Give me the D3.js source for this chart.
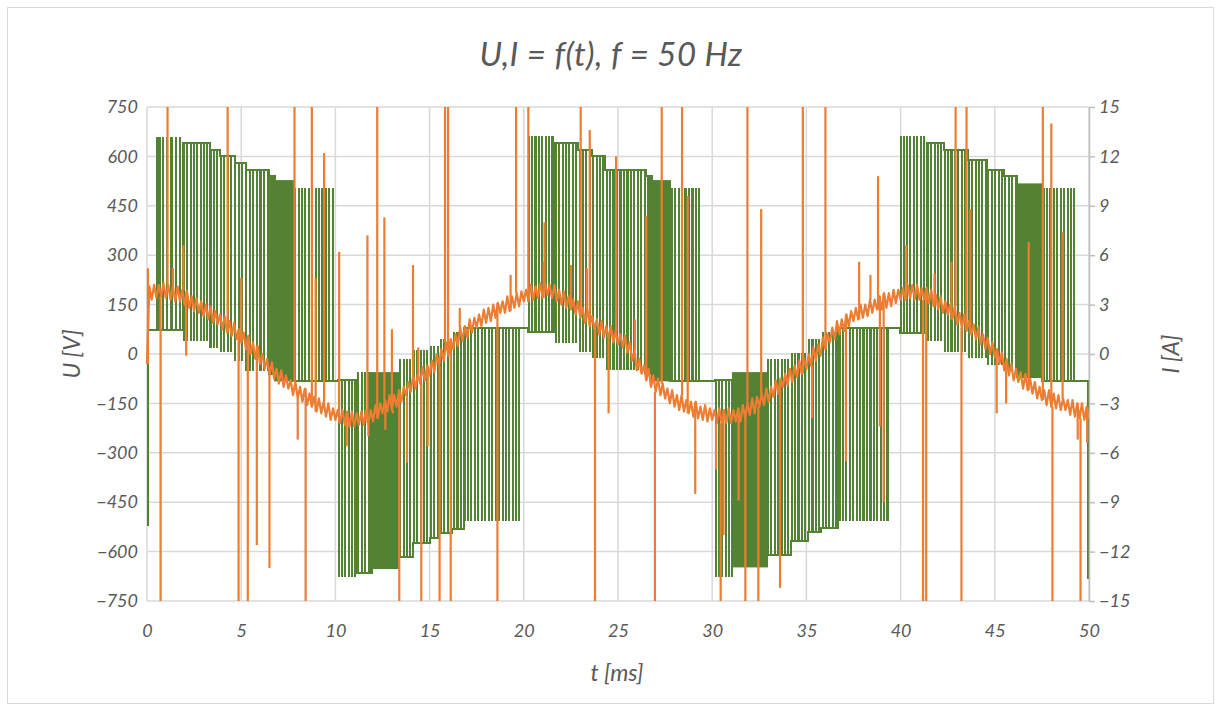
<!DOCTYPE html>
<html>
<head>
<meta charset="utf-8">
<script src="https://cdn.jsdelivr.net/npm/d3@7"></script>
<style>
  html, body { margin: 0; padding: 0; background: #ffffff; }
  svg text { font-family: Lato, "Open Sans", "Noto Sans", sans-serif; font-style: italic; fill: #595959; }
</style>
</head>
<body>
<svg id="chart" width="1222" height="711"></svg>
<script>
// ---- Axis ticks ----
const timeTicks = [0, 5, 10, 15, 20, 25, 30, 35, 40, 45, 50];
const voltageTicks = [750, 600, 450, 300, 150, 0, -150, -300, -450, -600, -750];
const currentTicks = [15, 12, 9, 6, 3, 0, -3, -6, -9, -12, -15];

// ---- Current I, in tenths of an ampere, one sample every 0.125 ms from t = 0 ----
const currentStep = 0.125;
const currentTenthsA = [
  -6, 41, 33, 42, 34, 42, 35, 43, 34, 42, 33, 41, 32, 41, 32, 39,
  30, 38, 28, 35, 26, 34, 25, 32, 23, 30, 21, 29, 19, 26, 18, 24,
  15, 23, 13, 20, 11, 19, 9, 15, 7, 13, 3, 11, 0, 7, -3, 5,
  -6, 0, -9, -3, -13, -5, -15, -9, -18, -10, -20, -13, -21, -16, -25, -17,
  -27, -20, -29, -21, -31, -24, -32, -26, -35, -27, -36, -29, -38, -30, -40, -33,
  -40, -34, -42, -34, -43, -35, -44, -35, -44, -36, -43, -35, -43, -34, -42, -34,
  -41, -31, -39, -30, -36, -28, -35, -25, -34, -25, -32, -22, -29, -20, -25, -17,
  -23, -13, -21, -12, -18, -8, -16, -7, -13, -4, -11, 0, -7, 3, -4, 7,
  -1, 9, 3, 12, 5, 16, 8, 17, 10, 21, 13, 22, 16, 24, 17, 27,
  19, 28, 20, 30, 22, 31, 25, 32, 25, 35, 26, 35, 28, 37, 29, 38,
  32, 39, 32, 42, 33, 41, 34, 43, 34, 43, 36, 42, 34, 42, 32, 39,
  30, 38, 28, 35, 27, 33, 24, 32, 22, 28, 19, 27, 17, 23, 15, 21,
  12, 20, 10, 17, 9, 17, 7, 14, 6, 12, 4, 11, 1, 7, -4, 2,
  -10, -3, -12, -7, -16, -9, -20, -13, -23, -15, -25, -18, -27, -21, -30, -22,
  -32, -25, -34, -25, -35, -28, -36, -29, -38, -29, -39, -32, -40, -31, -41, -33,
  -40, -34, -42, -33, -42, -34, -42, -33, -42, -34, -41, -33, -41, -31, -39, -30,
  -37, -27, -36, -26, -32, -24, -31, -21, -29, -20, -26, -16, -24, -15, -20, -12,
  -19, -9, -17, -7, -14, -4, -12, -3, -9, 0, -7, 4, -4, 6, -1, 10,
  3, 12, 7, 16, 9, 20, 12, 21, 14, 24, 17, 26, 20, 28, 21, 30,
  22, 30, 23, 33, 25, 33, 27, 35, 27, 37, 28, 37, 29, 39, 31, 39,
  33, 40, 33, 42, 34, 42, 33, 42, 33, 40, 33, 40, 31, 39, 29, 36,
  27, 35, 25, 32, 24, 30, 21, 29, 18, 25, 16, 24, 14, 20, 12, 18,
  9, 16, 6, 12, 3, 10, 0, 7, -2, 3, -6, 1, -10, -3, -13, -6,
  -16, -9, -17, -11, -21, -12, -22, -15, -24, -17, -27, -20, -28, -22, -31, -22,
  -32, -24, -33, -25, -34, -27, -34, -28, -37, -28, -38, -30, -39, -30, -40, -32,
  -39
];

// ---- Switching transients in the current: [t ms, peak A] ----
const currentSpikes = [
  [0.05, 5.2], [0.72, -18], [1.09, 18], [1.38, 5.2], [1.93, 6.6], [2.08, -0.1],
  [4.28, 18], [4.86, -18], [5.0, 4.6], [5.35, -18], [5.83, -11.6], [6.5, -13],
  [7.83, 18], [8.0, -5.2], [8.42, -18], [8.75, 18], [8.95, 4.6], [9.4, 12.2],
  [10.2, 6.2], [10.6, -5.6], [11.7, 7.2], [11.75, -5.0], [12.22, 18], [12.6, 8.3], [12.65, -4.6],
  [13.0, 1.5], [13.05, -3.6], [13.39, -18], [13.8, -6.6], [14.12, 5.4], [14.4, 0.4], [14.56, -18],
  [14.9, -5.6], [15.53, -18], [15.82, 18], [15.98, 18], [16.12, -18], [16.6, 2.8],
  [18.6, -18], [19.3, 4.8], [19.59, 18], [20.24, 18], [21.05, 5.6], [21.1, 8.0],
  [22.5, 5.4], [23.02, 18], [23.35, 5.2], [23.5, 13.6], [23.78, -18], [24.5, -3.6], [24.9, 12.0],
  [25.9, 2.1], [26.5, 8.4], [26.96, -18], [27.32, 18], [28.4, 18], [28.7, 9.6], [29.1, -8.5],
  [30.2, -7.0], [30.45, -18], [30.6, -11.0], [31.4, -8.9], [31.76, -18], [31.87, 18], [32.45, -18],
  [32.6, 8.8], [33.6, -14.2], [34.81, 18], [35.3, -3.9], [36.01, 18], [37.1, -6.5], [37.8, 5.6],
  [38.4, 4.8], [38.8, 10.8], [38.9, -4.4], [39.1, -9.0], [40.3, 6.6], [41.19, -18], [41.36, -18],
  [41.8, 4.9], [42.7, 5.6], [42.92, 18], [43.23, -18], [43.5, 18], [43.7, 8.8], [45.1, -3.6],
  [45.6, -3.0], [46.8, 6.8], [47.55, 18], [48.0, 14.0], [48.06, -18], [48.6, 7.4], [49.4, -5.2],
  [49.55, -18], [49.9, -5.4]
];

// ---- Voltage U [V] ----
// Stretches of the switched waveform: [start ms, end ms, resting level V, pulse level V]
const voltageSegments = [
  [0.00, 0.06, -520, -520],
  [0.06, 1.90, 72, 655],
  [1.90, 3.35, 640, 42],
  [3.35, 3.90, 620, 22],
  [3.90, 4.65, 600, 8],
  [4.65, 5.25, 580, -18],
  [5.25, 6.45, 558, -48],
  [6.45, 6.80, 540, -60],
  [7.75, 10.15, -82, 500],
  [10.15, 11.10, -80, -675],
  [11.10, 11.95, -665, -58],
  [13.35, 14.10, -617, -18],
  [14.10, 15.00, -575, 10],
  [15.00, 15.50, -560, 21],
  [15.50, 16.20, -545, 42],
  [16.20, 16.80, -530, 63],
  [16.80, 20.20, 80, -505],
  [20.20, 21.65, 68, 660],
  [21.65, 22.90, 640, 35],
  [22.90, 23.60, 620, 10],
  [23.60, 24.30, 600, -10],
  [24.30, 26.50, 560, -45],
  [26.50, 26.80, 540, -60],
  [27.76, 30.15, -82, 500],
  [30.15, 31.10, -80, -675],
  [32.90, 34.20, -610, -18],
  [34.20, 35.10, -568, 0],
  [35.10, 35.80, -540, 42],
  [35.80, 36.70, -528, 63],
  [36.70, 39.97, 80, -505],
  [39.97, 41.40, 65, 660],
  [41.40, 42.30, 640, 42],
  [42.30, 43.60, 620, 10],
  [43.60, 44.60, 590, -10],
  [44.60, 45.50, 560, -30],
  [45.50, 46.20, 540, -50],
  [47.50, 49.95, -82, 500],
  [49.95, 50.00, -680, -680]
];

// Instants (ms) where the voltage leaves its resting level for one short pulse
const voltagePulses = [
  0.55, 0.66, 0.83, 1.04, 1.28, 1.34, 1.55, 1.76,
  1.95, 2.13, 2.31, 2.48, 2.66, 2.84, 3.01, 3.19,
  3.37, 3.55, 3.73,
  3.92, 4.10, 4.30, 4.47,
  4.66, 4.86, 5.05,
  5.27, 5.45, 5.64, 5.84, 6.02, 6.22, 6.40,
  6.50, 6.66,
  7.86, 8.05, 8.24, 8.40, 8.58, 8.77, 8.95, 9.14, 9.30, 9.49, 9.68, 9.86,
  10.17, 10.34, 10.52, 10.70, 10.88, 11.03,
  11.22, 11.40, 11.58, 11.76, 11.88,
  13.45, 13.62, 13.80, 13.98,
  14.15, 14.33, 14.52, 14.70, 14.88,
  15.06, 15.24, 15.42,
  15.60, 15.78, 15.96, 16.12,
  16.30, 16.48, 16.66,
  16.85, 17.03, 17.21, 17.40, 17.58, 17.76, 17.95, 18.13, 18.31, 18.50, 18.68, 18.87, 19.05, 19.23, 19.42, 19.60, 19.76,
  20.26, 20.44, 20.62, 20.80, 20.98, 21.16, 21.34, 21.52,
  21.70, 21.88, 22.06, 22.24, 22.42, 22.60, 22.78,
  22.96, 23.14, 23.32, 23.50,
  23.68, 23.86, 24.04, 24.22,
  24.40, 24.58, 24.76, 24.95, 25.13, 25.31, 25.50, 25.68, 25.86, 26.05, 26.23, 26.41,
  26.58, 26.72,
  27.85, 28.03, 28.22, 28.40, 28.58, 28.76, 28.95, 29.13, 29.32,
  30.18, 30.36, 30.54, 30.72, 30.90, 31.03,
  32.96, 33.14, 33.32, 33.50, 33.68, 33.86, 34.04,
  34.22, 34.40, 34.58, 34.76, 34.94,
  35.14, 35.32, 35.50, 35.68,
  35.86, 36.04, 36.22, 36.40, 36.58,
  36.76, 36.94, 37.12, 37.30, 37.48, 37.66, 37.85, 38.03, 38.21, 38.40, 38.58, 38.76, 38.95, 39.13, 39.30,
  40.00, 40.16, 40.34, 40.52, 40.70, 40.88, 41.06, 41.24,
  41.44, 41.62, 41.80, 41.98, 42.16,
  42.34, 42.52, 42.70, 42.88, 43.06, 43.24, 43.42,
  43.62, 43.80, 43.98, 44.16, 44.34, 44.52,
  44.66, 44.84, 45.02, 45.20, 45.38,
  45.56, 45.74, 45.92, 46.10,
  47.58, 47.76, 47.94, 48.13, 48.31, 48.49, 48.68, 48.86, 49.04, 49.22
];
const pulseWidth = 0.005; // ms

// Intervals of very fast switching: [start ms, end ms, low V, high V]
const voltageBursts = [
  [6.80, 7.75, -80, 525],
  [11.95, 13.35, -650, -58],
  [26.80, 27.76, -80, 525],
  [31.10, 32.90, -645, -58],
  [46.20, 47.50, -70, 515]
];

// ---- Layout ----
const svg = d3.select("#chart");
const plot = { left: 147, right: 1089, top: 107, bottom: 601 };

const x = d3.scaleLinear().domain([0, 50]).range([plot.left, plot.right]);
const yU = d3.scaleLinear().domain([-750, 750]).range([plot.bottom, plot.top]);
const yI = d3.scaleLinear().domain([-15, 15]).range([plot.bottom, plot.top]);

const green = "#548235";
const orange = "#ED7D31";
const gridColor = "#D9D9D9";

// chart area frame
svg.append("rect")
  .attr("x", 7.5).attr("y", 7.5).attr("width", 1206).attr("height", 696)
  .attr("fill", "#fff").attr("stroke", "#D9D9D9").attr("stroke-width", 1);

// gridlines
const grid = svg.append("g");
grid.selectAll("line.h").data(voltageTicks).join("line")
  .attr("x1", plot.left).attr("x2", plot.right)
  .attr("y1", d => yU(d)).attr("y2", d => yU(d))
  .attr("stroke", gridColor).attr("stroke-width", 1.5);
grid.selectAll("line.v").data(timeTicks).join("line")
  .attr("y1", plot.top).attr("y2", plot.bottom)
  .attr("x1", d => x(d)).attr("x2", d => x(d))
  .attr("stroke", gridColor).attr("stroke-width", 1.5);

// clip to plot area
svg.append("clipPath").attr("id", "plotClip")
  .append("rect")
  .attr("x", plot.left - 2).attr("y", plot.top)
  .attr("width", plot.right - plot.left + 4).attr("height", plot.bottom - plot.top);

const marks = svg.append("g").attr("clip-path", "url(#plotClip)");

// ---- Voltage waveform ----
const stretches = voltageSegments.map(([t0, t1, rest, pulse]) => ({ t0, t1, rest, pulse }))
  .concat(voltageBursts.map(([t0, t1, lo]) => ({ t0, t1, rest: lo, pulse: lo })))
  .sort((a, b) => a.t0 - b.t0);

const uPoints = [];
stretches.forEach(s => {
  uPoints.push([s.t0, s.rest]);
  voltagePulses.filter(p => p >= s.t0 && p < s.t1).forEach(p => {
    uPoints.push([p, s.rest], [p, s.pulse], [p + pulseWidth, s.pulse], [p + pulseWidth, s.rest]);
  });
  uPoints.push([s.t1, s.rest]);
});

const uLine = d3.line().x(d => x(d[0])).y(d => yU(d[1]));

marks.selectAll("rect.burst").data(voltageBursts).join("rect")
  .attr("class", "burst")
  .attr("x", d => x(d[0])).attr("width", d => x(d[1]) - x(d[0]))
  .attr("y", d => yU(d[3])).attr("height", d => yU(d[2]) - yU(d[3]))
  .attr("fill", green).attr("stroke", green).attr("stroke-width", 2);

marks.append("path")
  .datum(uPoints)
  .attr("d", uLine)
  .attr("fill", "none").attr("stroke", green)
  .attr("stroke-width", 2).attr("stroke-linejoin", "miter")
  .attr("shape-rendering", "crispEdges");

// ---- Current ----
const iPoints = currentTenthsA.map((v, k) => [k * currentStep, v / 10]);
const iLine = d3.line().x(d => x(d[0])).y(d => yI(d[1]));

marks.append("path")
  .datum(iPoints)
  .attr("d", iLine)
  .attr("fill", "none").attr("stroke", orange)
  .attr("stroke-width", 2.2).attr("stroke-linejoin", "round");

marks.selectAll("path.spike").data(currentSpikes).join("path")
  .attr("class", "spike")
  .attr("d", ([t, peak]) => iLine([[t, currentTenthsA[Math.round(t / currentStep)] / 10], [t, peak]]))
  .attr("fill", "none").attr("stroke", orange).attr("stroke-width", 2.2);

// ---- Axes ----
const tickFont = 18;

const leftAxis = svg.append("g")
  .attr("transform", `translate(${plot.left},0)`)
  .call(d3.axisLeft(yU).tickValues(voltageTicks).tickSize(0).tickPadding(9));
leftAxis.select(".domain").remove();

const rightAxis = svg.append("g")
  .attr("transform", `translate(${plot.right},0)`)
  .call(d3.axisRight(yI).tickValues(currentTicks).tickSizeInner(6).tickSizeOuter(0).tickPadding(4));
rightAxis.select(".domain").attr("stroke", "#BFBFBF").attr("stroke-width", 1.5);
rightAxis.selectAll(".tick line").attr("stroke", "#BFBFBF").attr("stroke-width", 1.5);

const bottomAxis = svg.append("g")
  .attr("transform", `translate(0,${plot.bottom})`)
  .call(d3.axisBottom(x).tickValues(timeTicks).tickSize(0).tickPadding(23));
bottomAxis.select(".domain").remove();

svg.selectAll(".tick text")
  .attr("font-size", tickFont)
  .style("font-family", 'Lato, "Open Sans", sans-serif')
  .style("font-style", "italic")
  .attr("fill", "#595959");

// ---- Titles ----
svg.append("text")
  .attr("x", 611).attr("y", 66)
  .attr("text-anchor", "middle")
  .attr("font-size", 33)
  .attr("letter-spacing", 0.4)
  .text("U,I = f(t), f = 50 Hz");

svg.append("text")
  .attr("transform", "translate(80,354) rotate(-90)")
  .attr("text-anchor", "middle")
  .attr("font-size", 23)
  .text("U [V]");

svg.append("text")
  .attr("transform", "translate(1179,354) rotate(-90)")
  .attr("text-anchor", "middle")
  .attr("font-size", 23)
  .text("I [A]");

svg.append("text")
  .attr("x", 617).attr("y", 681)
  .attr("text-anchor", "middle")
  .attr("font-size", 23)
  .text("t [ms]");
</script>
</body>
</html>
